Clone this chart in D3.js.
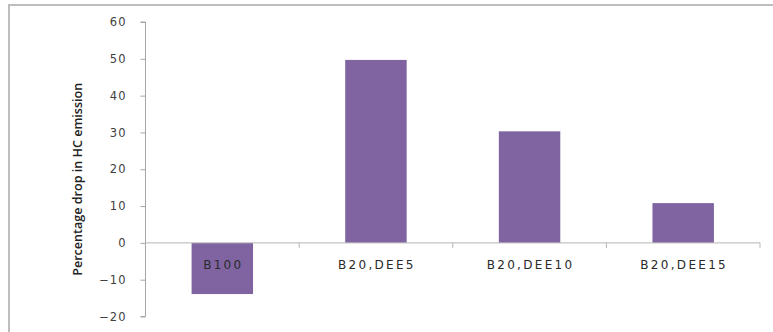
<!DOCTYPE html>
<html>
<head>
<meta charset="utf-8">
<script src="https://cdn.jsdelivr.net/npm/d3@7"></script>
<style>
  html, body { margin: 0; padding: 0; background: #fff; }
  svg { display: block; }
  text { font-family: "DejaVu Sans", "Open Sans", sans-serif; }
</style>
</head>
<body>
<svg id="chart" width="773" height="332"></svg>
<script>
// Fuel blends and the percentage drop in HC emission for each
const categories = ["B100", "B20,DEE5", "B20,DEE10", "B20,DEE15"];
const values = [-13.9, 49.7, 30.3, 10.8];
const yTicks = [-20, -10, 0, 10, 20, 30, 40, 50, 60];
const yTitle = "Percentage drop in HC emission";

const svg = d3.select("#chart");
const W = 773, H = 332;
const plotLeft = 145.5, plotRight = 760, plotTop = 22, plotBottom = 316.5;

// chart frame (top and left edges visible)
svg.append("path")
  .attr("d", `M9,${H + 2} L9,5 L${W + 2},5`)
  .attr("fill", "none")
  .attr("stroke", "#bdbdbd")
  .attr("stroke-width", 2);

const x = d3.scaleBand().domain(categories).range([plotLeft, plotRight]).paddingInner(0).paddingOuter(0);
const y = d3.scaleLinear().domain([-20, 60]).range([plotBottom, plotTop]);

// bars: width is 40% of the category slot
const barW = x.bandwidth() * 0.4;
svg.append("g").selectAll("rect")
  .data(values)
  .join("rect")
  .attr("x", (d, i) => x(categories[i]) + (x.bandwidth() - barW) / 2)
  .attr("y", d => y(Math.max(0, d)))
  .attr("width", barW)
  .attr("height", d => Math.abs(y(d) - y(0)))
  .attr("fill", "#8064a2");

// value axis
const yAxis = d3.axisLeft(y).tickValues(yTicks).tickSize(5).tickPadding(14).tickFormat(d3.format("d"));
const gy = svg.append("g").attr("transform", `translate(${plotLeft},0)`).call(yAxis);
gy.select(".domain").attr("stroke", "#a6a6a6").attr("d", `M-5,${y(60)}H0V${y(-20)}H-5`);
gy.selectAll(".tick line").attr("stroke", "#a6a6a6");
gy.selectAll(".tick text")
  .attr("fill", "#404040")
  .style("font-size", "11.5px")
  .style("letter-spacing", "1px");

// category axis at zero
const gx = svg.append("g").attr("transform", `translate(0,${y(0)})`);
gx.append("path").attr("stroke", "#b5b5b5").attr("fill", "none").attr("d", `M${plotLeft},0H${plotRight}`);
// slot boundary ticks
const bounds = categories.map(c => x(c)).concat([plotRight]);
gx.selectAll("line.bound").data(bounds.slice(1)).join("line")
  .attr("class", "bound")
  .attr("x1", d => d).attr("x2", d => d)
  .attr("y1", 0).attr("y2", 5)
  .attr("stroke", "#b5b5b5");
// category labels
gx.selectAll("text.cat").data(categories).join("text")
  .attr("class", "cat")
  .attr("x", d => x(d) + x.bandwidth() / 2 + 1)
  .attr("y", 26)
  .attr("text-anchor", "middle")
  .attr("fill", "#2a2a2a")
  .style("font-size", "12px")
  .style("letter-spacing", "2.3px")
  .text(d => d);

// axis title
svg.append("text")
  .attr("transform", `translate(82,${(y(60) + y(-20)) / 2 + 10}) rotate(-90)`)
  .attr("text-anchor", "middle")
  .attr("fill", "#222")
  .style("font-family", "'Open Sans', sans-serif")
  .style("font-size", "12px")
  .style("font-weight", "600")
  .attr("textLength", 193)
  .attr("lengthAdjust", "spacingAndGlyphs")
  .text(yTitle);
</script>
</body>
</html>
